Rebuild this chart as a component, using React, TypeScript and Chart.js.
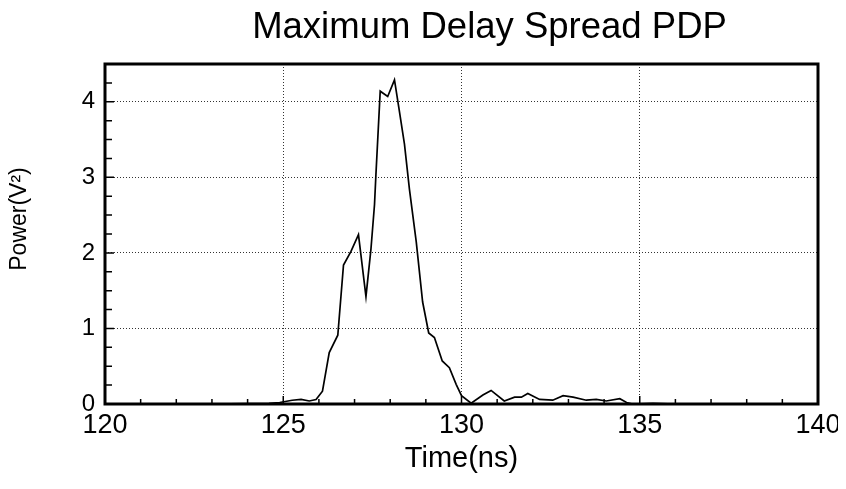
import { useEffect, useRef } from "react";
import { Chart, registerables } from "chart.js";

Chart.register(...registerables);

const TITLE = "Maximum Delay Spread PDP";
const X_TITLE = "Time(ns)";
const Y_TITLE = "Power(V²)";

const times = [
  120, 121, 122, 123, 124, 124.6, 124.9, 125.25, 125.5, 125.73, 125.92, 126.1,
  126.29, 126.53, 126.69, 126.9, 127.11, 127.32, 127.46, 127.56, 127.6, 127.72,
  127.93, 128.12, 128.24, 128.4, 128.54, 128.73, 128.91, 129.08, 129.24, 129.46,
  129.66, 129.85, 130.0, 130.27, 130.6, 130.83, 131.2, 131.49, 131.68, 131.86,
  132.19, 132.56, 132.85, 133.13, 133.5, 133.78, 134.06, 134.44, 134.63, 134.8,
  135.37, 136, 137, 138, 139, 140,
];
const powers = [
  0, 0, 0, 0, 0.005, 0.01, 0.02, 0.05, 0.06, 0.04, 0.06, 0.17,
  0.68, 0.91, 1.84, 2.02, 2.24, 1.42, 2.05, 2.64, 3.04, 4.14,
  4.07, 4.29, 3.93, 3.44, 2.84, 2.15, 1.35, 0.94, 0.88, 0.57,
  0.48, 0.26, 0.11, 0.01, 0.12, 0.18, 0.04, 0.09, 0.09, 0.14,
  0.06, 0.05, 0.11, 0.09, 0.05, 0.06, 0.04, 0.07, 0.02, 0.0,
  0.01, 0, 0, 0, 0, 0,
];

const xTickValues = [120, 125, 130, 135, 140];
const yTickValues = [0, 1, 2, 3, 4];
const xMinorStep = 1;
const yMinorStep = 0.25;

const FONT = '"Liberation Sans", Arial, Helvetica, sans-serif';

export default function App() {
  const ref = useRef<HTMLCanvasElement>(null);

  useEffect(() => {
    if (!ref.current) return;

    const framePlugin = {
      id: "frameAndTexts",
      afterDatasetsDraw(chart: any) {
        const { ctx, chartArea: a, scales } = chart;
        const xs = scales.x;
        const ys = scales.y;
        ctx.save();
        ctx.strokeStyle = "#000";
        ctx.lineWidth = 1.5;
        ctx.beginPath();
        for (let v = xs.min; v <= xs.max + 1e-9; v += xMinorStep) {
          const px = xs.getPixelForValue(v);
          const len = Math.abs(v % 5) < 1e-9 ? 8 : 5;
          ctx.moveTo(px, a.bottom);
          ctx.lineTo(px, a.bottom - len);
        }
        for (let v = ys.min; v <= ys.max + 1e-9; v += yMinorStep) {
          const py = ys.getPixelForValue(v);
          const len = Math.abs(v % 1) < 1e-9 ? 9 : 7;
          ctx.moveTo(a.left, py);
          ctx.lineTo(a.left + len, py);
        }
        ctx.stroke();
        ctx.lineWidth = 3;
        ctx.strokeRect(a.left, a.top, a.right - a.left, a.bottom - a.top);
        ctx.restore();
      },
      afterDraw(chart: any) {
        const { ctx, chartArea: a } = chart;
        const cx = (a.left + a.right) / 2;
        ctx.save();
        ctx.fillStyle = "#000";
        ctx.textAlign = "center";
        ctx.textBaseline = "alphabetic";
        ctx.font = `36.5px ${FONT}`;
        ctx.fillText(TITLE, cx + 28, 30);
        ctx.font = `29px ${FONT}`;
        ctx.fillText(X_TITLE, cx, 459);
        ctx.translate(17.5, (a.top + a.bottom) / 2 - 15);
        ctx.rotate(-Math.PI / 2);
        ctx.font = `23px ${FONT}`;
        ctx.fillText(Y_TITLE, 0, 0);
        ctx.restore();
      },
    };

    const gridColor = "rgba(0,0,0,0.8)";

    const chart = new Chart(ref.current, {
      type: "line",
      data: {
        datasets: [
          {
            data: times.map((t, i) => ({ x: t, y: powers[i] })),
            borderColor: "#000",
            borderWidth: 1.7,
            pointRadius: 0,
            tension: 0,
            fill: false,
          },
        ],
      },
      options: {
        responsive: false,
        animation: false,
        layout: { padding: { top: 56, right: 28, left: 0, bottom: 0 } },
        plugins: {
          legend: { display: false },
          title: { display: false },
          tooltip: { enabled: false },
        },
        scales: {
          x: {
            type: "linear",
            min: 120,
            max: 140,
            afterBuildTicks: (s: any) => {
              s.ticks = xTickValues.map((v) => ({ value: v }));
            },
            afterFit: (s: any) => {
              s.height = 77;
              s.paddingLeft = 0;
              s.paddingRight = 0;
            },
            grid: { color: gridColor, lineWidth: 1, drawTicks: false },
            border: { display: false, dash: [1, 2] },
            ticks: {
              color: "#000",
              font: { family: FONT, size: 27 },
              padding: 5,
              maxRotation: 0,
              autoSkip: false,
            },
          },
          y: {
            type: "linear",
            min: 0,
            max: 4.5,
            afterBuildTicks: (s: any) => {
              s.ticks = yTickValues.map((v) => ({ value: v }));
            },
            afterFit: (s: any) => {
              s.width = 97;
              s.paddingTop = 0;
              s.paddingBottom = 0;
            },
            grid: { color: gridColor, lineWidth: 1, drawTicks: false },
            border: { display: false, dash: [1, 2] },
            ticks: {
              color: "#000",
              font: { family: FONT, size: 24 },
              padding: 10,
              autoSkip: false,
            },
          },
        },
      },
      plugins: [framePlugin],
    } as any);

    return () => chart.destroy();
  }, []);

  return (
    <div style={{ width: 838, height: 473 }}>
      <canvas ref={ref} width={838} height={473} style={{ display: "block" }} />
    </div>
  );
}
